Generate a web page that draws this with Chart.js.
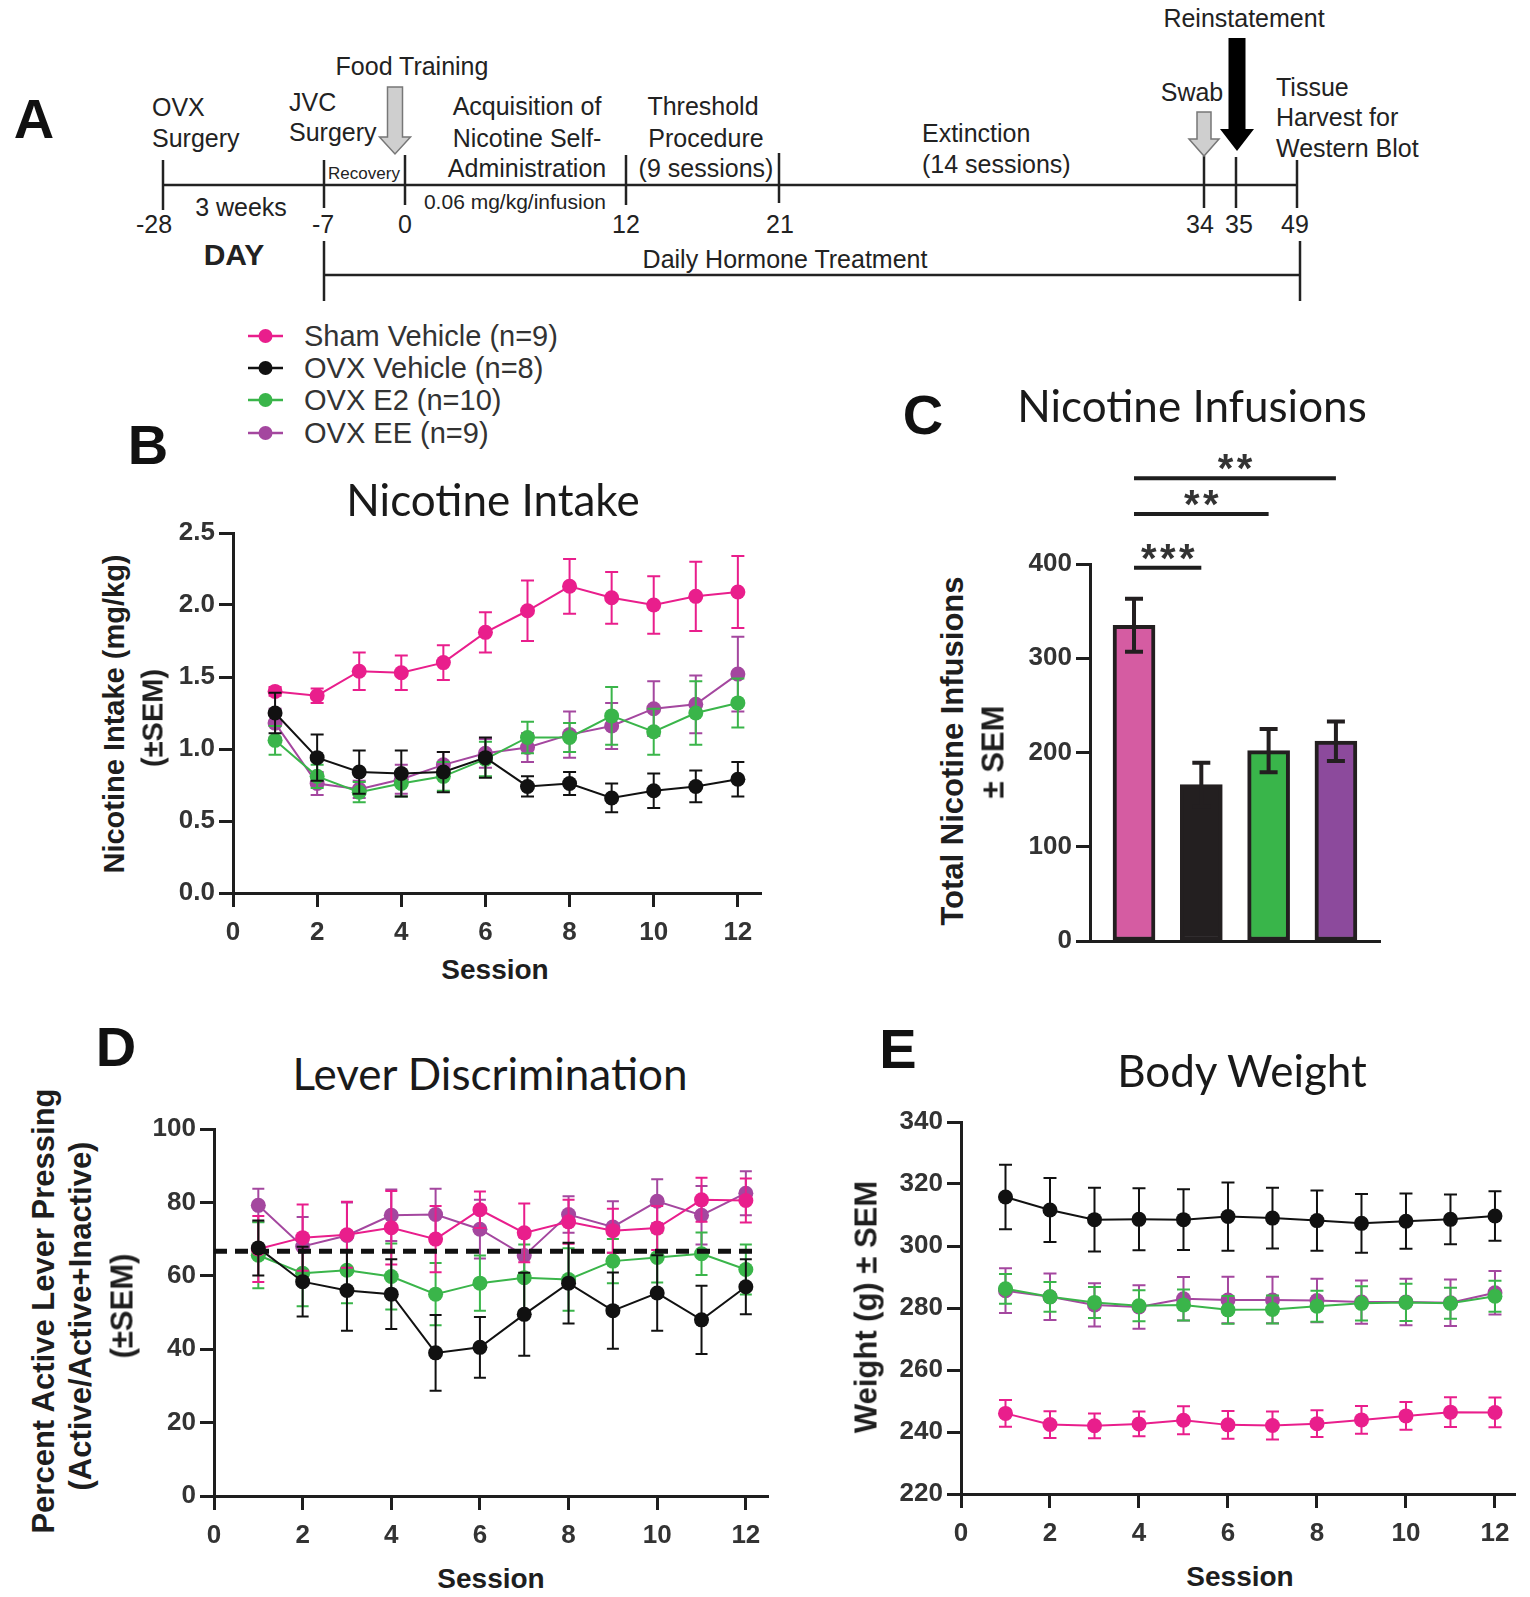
<!DOCTYPE html>
<html><head><meta charset="utf-8">
<script src="https://cdn.jsdelivr.net/npm/chart.js@4.4.1/dist/chart.umd.min.js"></script>
<style>
html,body{margin:0;padding:0;background:#fff;}
body{width:1530px;height:1597px;position:relative;overflow:hidden;font-family:'Liberation Sans',Arial,sans-serif;color:#222;}
.t{position:absolute;white-space:nowrap;transform:translate(-50%,-50%);line-height:1;}
.letter{font-weight:bold;font-size:56px;color:#111;}
.title{font-family:Lato,'Open Sans',sans-serif;font-size:44px;color:#1a1a1a;}
.ax{font-weight:bold;font-size:28px;color:#1e1e1e;}
.yt{font-weight:bold;font-size:29px;color:#1e1e1e;transform:translate(-50%,-50%) rotate(-90deg);}
.yt31{font-size:31px;}
canvas{position:absolute;}
.lg{position:absolute;left:248px;height:30px;display:flex;align-items:center;font-size:29px;color:#333;white-space:nowrap;}
.lg svg{margin-right:21px;}
</style></head>
<body>
<svg id="tl" width="1530" height="310" style="position:absolute;left:0;top:0" font-family="Liberation Sans, Arial, sans-serif" fill="#222" font-size="25">
  <line x1="163" y1="185" x2="1297" y2="185" stroke="#222" stroke-width="2.5"/>
  <g id="tlTicks"></g>
  <line x1="324" y1="275" x2="1300" y2="275" stroke="#222" stroke-width="2.5"/>
  <line x1="324" y1="241" x2="324" y2="301" stroke="#222" stroke-width="2.5"/>
  <line x1="1300" y1="241" x2="1300" y2="301" stroke="#222" stroke-width="2.5"/>
  <text x="152" y="116">OVX</text>
  <text x="152" y="146.5">Surgery</text>
  <text x="289" y="111">JVC</text>
  <text x="289" y="141">Surgery</text>
  <text x="412" y="75" text-anchor="middle">Food Training</text>
  <polygon points="387.5,87 402.5,87 402.5,137 410.5,137 395,154 379.5,137 387.5,137" fill="#cfcfcf" stroke="#777" stroke-width="1.5"/>
  <text x="364" y="179" text-anchor="middle" font-size="17">Recovery</text>
  <text x="527" y="115" text-anchor="middle">Acquisition of</text>
  <text x="527" y="146.5" text-anchor="middle">Nicotine Self-</text>
  <text x="527" y="177" text-anchor="middle">Administration</text>
  <text x="515" y="209" text-anchor="middle" font-size="21">0.06 mg/kg/infusion</text>
  <text x="241" y="216" text-anchor="middle">3 weeks</text>
  <text x="234" y="265" text-anchor="middle" font-size="30" font-weight="bold">DAY</text>
  <text x="703" y="115" text-anchor="middle">Threshold</text>
  <text x="706" y="146.5" text-anchor="middle">Procedure</text>
  <text x="706" y="177" text-anchor="middle">(9 sessions)</text>
  <text x="922" y="142">Extinction</text>
  <text x="922" y="173">(14 sessions)</text>
  <text x="1244" y="27" text-anchor="middle">Reinstatement</text>
  <polygon points="1228.5,38 1245.5,38 1245.5,129 1254,129 1237,151 1220,129 1228.5,129" fill="#000"/>
  <text x="1192" y="101" text-anchor="middle">Swab</text>
  <polygon points="1197,112 1211,112 1211,139 1219,139 1204,156 1189,139 1197,139" fill="#cfcfcf" stroke="#777" stroke-width="1.5"/>
  <text x="1276" y="96">Tissue</text>
  <text x="1276" y="126">Harvest for</text>
  <text x="1276" y="157">Western Blot</text>
  <text x="785" y="268" text-anchor="middle">Daily Hormone Treatment</text>
</svg>

<div class="t letter" style="left:34px;top:119px">A</div>
<div class="t letter" style="left:148px;top:445px">B</div>
<div class="t letter" style="left:923px;top:415px">C</div>
<div class="t letter" style="left:116px;top:1047px">D</div>
<div class="t letter" style="left:898px;top:1049px">E</div>

<div id="legend"></div>

<canvas id="cB"></canvas>
<canvas id="cC"></canvas>
<canvas id="cD"></canvas>
<canvas id="cE"></canvas>

<div class="t title" style="left:493px;top:499px">Nicotine Intake</div>
<div class="t title" style="left:1192px;top:405px">Nicotine Infusions</div>
<div class="t title" style="left:490px;top:1073px">Lever Discrimination</div>
<div class="t title" style="left:1242px;top:1070px">Body Weight</div>

<div class="t ax" style="left:495px;top:970px">Session</div>
<div class="t ax" style="left:491px;top:1579px">Session</div>
<div class="t ax" style="left:1240px;top:1577px">Session</div>

<div class="t yt" style="left:114px;top:714px">Nicotine Intake (mg/kg)</div>
<div class="t yt" style="left:153px;top:718px">(±SEM)</div>
<div class="t yt yt31" style="left:952px;top:751px">Total Nicotine Infusions</div>
<div class="t yt yt31" style="left:993px;top:752px">± SEM</div>
<div class="t yt yt31" style="left:43px;top:1311px">Percent Active Lever Pressing</div>
<div class="t yt yt31" style="left:80px;top:1316px">(Active/Active+Inactive)</div>
<div class="t yt yt31" style="left:122px;top:1306px">(±SEM)</div>
<div class="t yt yt31" style="left:866px;top:1307px">Weight (g) ± SEM</div>

<script>
// ---------- data ----------
const sessions = [1,2,3,4,5,6,7,8,9,10,11,12];
const sessionTicks = [0,2,4,6,8,10,12];
const groupNames = ['Sham Vehicle (n=9)','OVX Vehicle (n=8)','OVX E2 (n=10)','OVX EE (n=9)'];
const groupColors = ['#e91e8c','#111111','#3ab54a','#a4479f'];

const timelineDays = ['-28','-7','0','12','21','34','35','49'];

// B: Nicotine intake (mg/kg)
const intakeTicks = [0,0.5,1,1.5,2,2.5];
const intakeSham    = [1.40,1.37,1.54,1.53,1.60,1.81,1.96,2.13,2.05,2.00,2.06,2.09];
const intakeShamErr = [0.03,0.05,0.13,0.12,0.12,0.14,0.21,0.19,0.18,0.20,0.24,0.25];
const intakeOvxVeh    = [1.25,0.94,0.84,0.83,0.84,0.94,0.74,0.76,0.66,0.71,0.74,0.79];
const intakeOvxVehErr = [0.14,0.16,0.15,0.16,0.14,0.14,0.07,0.08,0.10,0.12,0.11,0.12];
const intakeE2    = [1.06,0.81,0.70,0.76,0.81,0.93,1.08,1.08,1.23,1.12,1.25,1.32];
const intakeE2Err = [0.10,0.08,0.07,0.09,0.10,0.12,0.11,0.10,0.20,0.16,0.22,0.17];
const intakeEE    = [1.18,0.76,0.72,0.79,0.89,0.97,1.01,1.10,1.16,1.28,1.31,1.52];
const intakeEEErr = [0.10,0.08,0.06,0.10,0.09,0.10,0.10,0.16,0.16,0.19,0.20,0.26];

// C: total nicotine infusions
const infusionMeans = [335,166,202,212];
const infusionSEM   = [28,23,23,21];
const infusionBarColors = ['#d55ca2','#231f20','#39b54a','#8c4a9c'];
const infusionTicks = [0,100,200,300,400];
const sigPairs   = [[0,1],[0,2],[0,3]];
const sigHeights = [396,453,491];
const sigLabels  = ['***','**','**'];

// D: lever discrimination (%)
const leverTicks = [0,20,40,60,80,100];
const chanceLevel = 66.7;
const leverSham    = [67.3,70.4,71.2,73.1,70.0,78.0,71.7,74.7,72.3,73.0,80.7,80.5];
const leverShamErr = [9,9,9,10,9,5,8,6,6,6,6,6];
const leverOvxVeh    = [67.6,58.4,56.0,55.0,39.0,40.5,49.5,58.0,50.5,55.3,48.0,57.0];
const leverOvxVehErr = [7.5,9.5,11,9.5,10.3,8.3,11.3,11,10.4,10.3,9.3,7.5];
const leverE2    = [65.6,60.7,61.5,59.8,55.0,58.0,59.5,59.0,64.0,65.0,66.0,61.7];
const leverE2Err = [9,9,9,9,8.5,7.5,9,8.5,6,6.8,5.8,6.8];
const leverEE    = [79.2,68.0,71.0,76.5,76.7,72.7,65.5,76.7,73.3,80.3,76.5,82.5];
const leverEEErr = [4.5,8,9,7,7,8,5,5,7,6,8,6];

// E: body weight (g)
const weightTicks = [220,240,260,280,300,320,340];
const weightSham    = [246.0,242.4,242.0,242.6,243.8,242.3,242.1,242.7,243.9,245.2,246.4,246.3];
const weightShamErr = [4.3,4.3,4,4,4.5,4.5,4.5,4.3,4.5,4.5,4.8,4.8];
const weightOvxVeh    = [315.8,311.6,308.5,308.6,308.5,309.5,309.0,308.2,307.3,308.0,308.6,309.7];
const weightOvxVehErr = [10.4,10.3,10.3,10,9.8,11,9.8,9.7,9.5,8.9,8,8];
const weightE2    = [286.2,283.6,281.8,280.7,281.0,279.4,279.5,280.6,281.5,281.8,281.5,283.8];
const weightE2Err = [4.8,4.8,5,5,5,4.5,4.5,5,5.5,6,5,5];
const weightEE    = [285.6,283.6,281.0,280.3,283.0,282.6,282.6,282.4,281.9,281.9,281.7,284.9];
const weightEEErr = [7.2,7.5,7,7,7,7.5,7.5,7,7,7.5,7.5,7];

// ---------- timeline ticks (schematic layout) ----------
const tlLayout = {x:[163,324,405,626,779,1204,1236,1297], top:[160,160,155,155,153,156,157,160], bot:[210,208,205,205,203,208,208,208], lx:[154,323,405,626,780,1200,1239,1295]};
(function(){
  const g = document.getElementById('tlTicks'); let s = '';
  timelineDays.forEach((d,i)=>{
    s += `<line x1="${tlLayout.x[i]}" y1="${tlLayout.top[i]}" x2="${tlLayout.x[i]}" y2="${tlLayout.bot[i]}" stroke="#222" stroke-width="2.5"/>`;
    s += `<text x="${tlLayout.lx[i]}" y="233" text-anchor="middle">${d}</text>`;
  });
  g.innerHTML = s;
})();

// ---------- legend ----------
(function(){
  const rows = [336,368,400,433]; const L = document.getElementById('legend');
  groupNames.forEach((n,i)=>{
    const d = document.createElement('div'); d.className='lg'; d.style.top=(rows[i]-15)+'px';
    d.innerHTML = `<svg width="35" height="16"><line x1="0" y1="8" x2="35" y2="8" stroke="${groupColors[i]}" stroke-width="2.5"/><circle cx="17.5" cy="8" r="7" fill="${groupColors[i]}"/></svg><span>${n}</span>`;
    L.appendChild(d);
  });
})();

// ---------- helpers ----------
const FONT = "'Liberation Sans', Arial, Helvetica, sans-serif";
const AXC = '#1e1e1e';

function drawErr(chart, meta, ds, cap, w, color){
  const ctx = chart.ctx, ys = chart.scales.y;
  ctx.save(); ctx.strokeStyle = color; ctx.lineWidth = w; ctx.lineCap = 'butt';
  meta.data.forEach((el,i)=>{
    const e = ds.errors[i]; if (e == null) return;
    const v = ds.data[i].y, x = el.x;
    const t = ys.getPixelForValue(v+e), b = ys.getPixelForValue(v-e);
    ctx.beginPath();
    ctx.moveTo(x,t); ctx.lineTo(x,b);
    ctx.moveTo(x-cap,t); ctx.lineTo(x+cap,t);
    ctx.moveTo(x-cap,b); ctx.lineTo(x+cap,b);
    ctx.stroke();
  });
  ctx.restore();
}
const errorBarPlugin = {
  id:'errorBars',
  beforeDatasetDraw(chart, args){
    if (chart.config.type === 'bar') return;
    const ds = chart.data.datasets[args.index];
    if (!ds.errors) return;
    drawErr(chart, args.meta, ds, ds.capHalf || 6, 2, ds.borderColor);
  },
  afterDatasetsDraw(chart){
    if (chart.config.type !== 'bar') return;
    chart.data.datasets.forEach((ds,i)=>{ if (ds.errors) drawErr(chart, chart.getDatasetMeta(i), ds, 9, 4, '#231f20'); });
  }
};

function place(id, area, pad){
  const c = document.getElementById(id);
  const W = area.r - area.l + pad.y + pad.r, H = area.b - area.t + pad.t + pad.x;
  c.width = W; c.height = H;
  c.style.left = (area.l - pad.y)+'px'; c.style.top = (area.t - pad.t)+'px';
  c.style.width = W+'px'; c.style.height = H+'px';
  return c;
}
function axis(ticksArr, pad, isX, extra){
  const o = {
    border:{display:true, color:AXC, width:3},
    grid:{drawOnChartArea:false, drawTicks:true, tickLength:14, tickWidth:3, tickColor:AXC},
    ticks:{font:{family:FONT,size:26,weight:'bold'}, color:'#333', autoSkip:false, maxRotation:0, padding: isX ? 10 : 4},
    afterBuildTicks: s => { s.ticks = ticksArr.map(v=>({value:v})); },
    afterFit: isX ? (s => { s.height = pad.x; }) : (s => { s.width = pad.y; })
  };
  return Object.assign(o, extra || {});
}
function lineDs(label, vals, errs, color, order, cap){
  return {label, data: sessions.map((s,i)=>({x:s,y:vals[i]})), errors: errs, capHalf: cap,
    borderColor: color, backgroundColor: color, borderWidth: 2, pointRadius: 7.5, pointHoverRadius: 7.5,
    pointBackgroundColor: color, pointBorderWidth: 0, tension: 0, clip: false, order};
}
const baseOpts = (pad) => ({
  responsive:false, animation:false, devicePixelRatio:1,
  layout:{padding:{left:0, top:pad.t, right:pad.r, bottom:0}},
  plugins:{legend:{display:false}, tooltip:{enabled:false}, title:{display:false}},
  events: []
});

function lineChart(id, area, pad, xMax, yTicks, sets, extraSets, yFmt){
  const c = place(id, area, pad);
  const opts = baseOpts(pad);
  opts.scales = {
    x: axis(sessionTicks, pad, true, {type:'linear', min:0, max:xMax}),
    y: axis(yTicks, pad, false, {type:'linear', min:yTicks[0], max:yTicks[yTicks.length-1]})
  };
  if (yFmt) opts.scales.y.ticks.callback = yFmt;
  return new Chart(c, {type:'line', data:{datasets: sets.concat(extraSets||[])}, options: opts, plugins:[errorBarPlugin]});
}

// ---------- B ----------
lineChart('cB', {l:233,t:533,r:761,b:893}, {y:100,t:30,r:25,x:60}, 12.55, intakeTicks, [
  lineDs(groupNames[0], intakeSham, intakeShamErr, groupColors[0], 2, 6.5),
  lineDs(groupNames[1], intakeOvxVeh, intakeOvxVehErr, groupColors[1], 1, 6.5),
  lineDs(groupNames[2], intakeE2, intakeE2Err, groupColors[2], 3, 6.5),
  lineDs(groupNames[3], intakeEE, intakeEEErr, groupColors[3], 4, 6.5)
], null, v => v.toFixed(1));

// ---------- D ----------
lineChart('cD', {l:214,t:1129,r:768,b:1496}, {y:100,t:30,r:25,x:60}, 12.5, leverTicks, [
  lineDs(groupNames[0], leverSham, leverShamErr, groupColors[0], 2, 6),
  lineDs(groupNames[1], leverOvxVeh, leverOvxVehErr, groupColors[1], 1, 6),
  lineDs(groupNames[2], leverE2, leverE2Err, groupColors[2], 3, 6),
  lineDs(groupNames[3], leverEE, leverEEErr, groupColors[3], 4, 6)
], [{label:'chance', data:[{x:0,y:chanceLevel},{x:sessions[sessions.length-1]+0.2,y:chanceLevel}],
     borderColor:'#111', borderWidth:5, borderDash:[13,8], pointRadius:0, clip:false, order:0}]);

// ---------- E ----------
lineChart('cE', {l:961,t:1122,r:1515,b:1494}, {y:100,t:30,r:12,x:60}, 12.45, weightTicks, [
  lineDs(groupNames[0], weightSham, weightShamErr, groupColors[0], 2, 6.5),
  lineDs(groupNames[1], weightOvxVeh, weightOvxVehErr, groupColors[1], 1, 6.5),
  lineDs(groupNames[2], weightE2, weightE2Err, groupColors[2], 3, 6.5),
  lineDs(groupNames[3], weightEE, weightEEErr, groupColors[3], 4, 6.5)
]);

// ---------- C ----------
(function(){
  const pad = {y:100,t:140,r:20,x:20};
  const area = {l:1090,t:564,r:1380,b:941};
  const c = place('cC', area, pad);
  const sigPlugin = {
    id:'sig',
    afterDatasetsDraw(chart){
      const ctx = chart.ctx, ys = chart.scales.y, meta = chart.getDatasetMeta(0);
      ctx.save();
      sigPairs.forEach((p,k)=>{
        const y = ys.getPixelForValue(sigHeights[k]);
        const x1 = meta.data[p[0]].x, x2 = meta.data[p[1]].x;
        ctx.strokeStyle = '#1e1e1e'; ctx.lineWidth = 4;
        ctx.beginPath(); ctx.moveTo(x1, y); ctx.lineTo(x2, y); ctx.stroke();
        ctx.fillStyle = '#333'; ctx.font = "bold 40px " + FONT; ctx.textAlign = 'center'; ctx.textBaseline = 'alphabetic';
        const lab = sigLabels[k], n = lab.length, step = 19, cx = (x1+x2)/2;
        for (let j = 0; j < n; j++) ctx.fillText(lab[j], cx + (j - (n-1)/2) * step, y + 4);
      });
      ctx.restore();
    }
  };
  const opts = baseOpts(pad);
  opts.scales = {
    x: {type:'linear', min:0.346, max:4.655, offset:false,
        border:{display:true, color:AXC, width:3},
        grid:{display:false, drawTicks:false, offset:false},
        ticks:{display:false},
        afterFit: s => { s.height = pad.x; }},
    y: axis(infusionTicks, pad, false, {type:'linear', min:0, max:400})
  };
  new Chart(c, {type:'bar', data:{datasets:[{
      label:'Total infusions',
      data: infusionMeans.map((v,i)=>({x:i+1, y:v})),
      errors: infusionSEM,
      backgroundColor: infusionBarColors, borderColor:'#231f20', borderWidth:4, borderSkipped:false,
      barThickness:42
    }]}, options: opts, plugins:[errorBarPlugin, sigPlugin]});
})();
</script>
</body></html>
